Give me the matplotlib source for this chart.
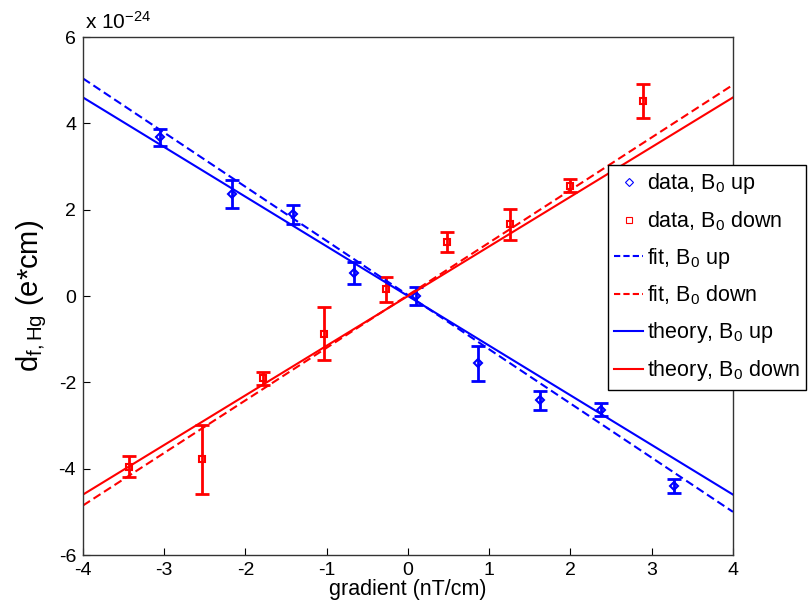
import matplotlib
matplotlib.use("Agg")
import matplotlib.pyplot as plt
import numpy as np

plt.rcParams["font.family"] = ["Liberation Sans", "DejaVu Sans"]
plt.rcParams["axes.unicode_minus"] = False
plt.rcParams["mathtext.fontset"] = "custom"
plt.rcParams["mathtext.rm"] = "Liberation Sans"
plt.rcParams["mathtext.it"] = "Liberation Sans"

# values in units of 1e-24 e*cm
up_x = [-3.05, -2.17, -1.41, -0.66, 0.10, 0.86, 1.62, 2.38, 3.27]
up_y = [3.68, 2.36, 1.89, 0.53, 0.0, -1.56, -2.41, -2.63, -4.40]
up_err = [0.20, 0.33, 0.21, 0.25, 0.20, 0.40, 0.22, 0.15, 0.17]

down_x = [-3.43, -2.54, -1.79, -1.03, -0.27, 0.48, 1.25, 2.00, 2.89]
down_y = [-3.95, -3.78, -1.91, -0.87, 0.16, 1.26, 1.66, 2.56, 4.52]
down_err = [0.25, 0.80, 0.14, 0.61, 0.29, 0.23, 0.36, 0.16, 0.40]

# straight lines: slope, intercept
fit_up = (-1.255, 0.02)
fit_down = (1.218, 0.02)
theory_up = (-1.15, 0.0)
theory_down = (1.15, 0.0)

blue = "#0000ff"
red = "#ff0000"

fig = plt.figure(figsize=(8.09, 6.04), dpi=100)
ax = fig.add_axes([0.1026, 0.0811, 0.8034, 0.8576])

xl = np.array([-4.0, 4.0])

eb = dict(fmt="none", elinewidth=2, capsize=5, capthick=2)
ax.errorbar(up_x, up_y, yerr=up_err, ecolor=blue, **eb)
ax.errorbar(down_x, down_y, yerr=down_err, ecolor=red, **eb)

ax.plot(up_x, up_y, ls="none", marker="D", ms=4, mfc="none", mec=blue, mew=1.5)
ax.plot(down_x, down_y, ls="none", marker="s", ms=4, mfc="none", mec=red, mew=1.5)

ax.plot(xl, fit_up[0] * xl + fit_up[1], color=blue, ls="--", lw=1.5,
        dashes=(4, 2))
ax.plot(xl, fit_down[0] * xl + fit_down[1], color=red, ls="--", lw=1.5,
        dashes=(4, 2))
ax.plot(xl, theory_up[0] * xl + theory_up[1], color=blue, lw=1.5)
ax.plot(xl, theory_down[0] * xl + theory_down[1], color=red, lw=1.5)

# legend proxies
h = [
    plt.Line2D([], [], ls="none", marker="D", ms=4, mfc="none", mec=blue, mew=0.8),
    plt.Line2D([], [], ls="none", marker="s", ms=4, mfc="none", mec=red, mew=0.8),
    plt.Line2D([], [], color=blue, ls="--", lw=1.5, dashes=(3, 1.5)),
    plt.Line2D([], [], color=red, ls="--", lw=1.5, dashes=(3, 1.5)),
    plt.Line2D([], [], color=blue, lw=1.5),
    plt.Line2D([], [], color=red, lw=1.5),
]
labels = ["data, B$_0$ up", "data, B$_0$ down", "fit, B$_0$ up",
          "fit, B$_0$ down", "theory, B$_0$ up", "theory, B$_0$ down"]
leg = ax.legend(h, labels, loc="upper left", bbox_to_anchor=(0.8077, 0.753),
                fontsize=15.5, handlelength=1.35, handletextpad=0.15,
                labelspacing=0.6, borderpad=0.3, borderaxespad=0,
                fancybox=False, framealpha=1, edgecolor="black")
leg.get_frame().set_linewidth(1.0)

ax.set_xlim(-4, 4)
ax.set_ylim(-6, 6)
ax.set_xticks(range(-4, 5))
ax.set_yticks(range(-6, 7, 2))
ax.tick_params(direction="in", length=5, labelsize=14, top=False, right=False,
               pad=5)
for s in ax.spines.values():
    s.set_color("#333333")
    s.set_linewidth(1.0)

ax.set_xlabel("gradient (nT/cm)", fontsize=15.5, labelpad=0)
ax.set_ylabel("d$_{\\mathrm{f,Hg}}$ (e*cm)", fontsize=21, labelpad=7)
fig.text(0.105, 0.945, "x 10$^{-24}$", fontsize=15, ha="left", va="bottom")

fig.savefig("out.png", dpi=100)
